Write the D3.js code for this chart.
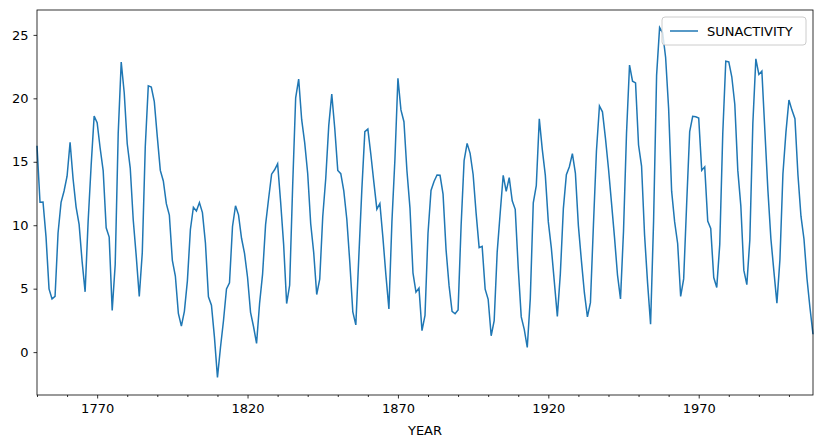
<!DOCTYPE html>
<html><head><meta charset="utf-8">
<script src="https://cdn.jsdelivr.net/npm/d3@7"></script>
<style>body{margin:0;background:#fff}text{font-family:"DejaVu Sans",sans-serif}</style>
</head><body><svg id="c" width="822" height="448"></svg>
<script>
// yearly sunspot numbers 1750-2008, plotted Box-Cox (lambda 0.5) transformed
var firstYear = 1750;
var sunspots = [
83.4,47.7,47.8,30.7,12.2,9.6,10.2,32.4,47.6,54.0,
62.9,85.9,61.2,45.1,36.4,20.9,11.4,37.8,69.8,106.1,
100.8,81.6,66.5,34.8,30.6,7.0,19.8,92.5,154.4,125.9,
84.8,68.1,38.5,22.8,10.2,24.1,82.9,132.0,130.9,118.1,
89.9,66.6,60.0,46.9,41.0,21.3,16.0,6.4,4.1,6.8,
14.5,34.0,45.0,43.1,47.5,42.2,28.1,10.1,8.1,2.5,
0.0,1.4,5.0,12.2,13.9,35.4,45.8,41.1,30.1,23.9,
15.6,6.6,4.0,1.8,8.5,16.6,36.3,49.6,64.2,67.0,
70.9,47.8,27.5,8.5,13.2,56.9,121.5,138.3,103.2,85.7,
64.6,36.7,24.2,10.7,15.0,40.1,61.5,98.5,124.7,96.3,
66.6,64.5,54.1,39.0,20.6,6.7,4.3,22.7,54.8,93.8,
95.8,77.2,59.1,44.0,47.0,30.5,16.3,7.3,37.6,74.0,
139.0,111.2,101.6,66.2,44.7,17.0,11.3,12.4,3.4,6.0,
32.3,54.3,59.7,63.7,63.5,52.2,25.4,13.1,6.8,6.3,
7.1,35.6,73.0,85.1,78.0,64.0,41.8,26.2,26.7,12.1,
9.5,2.7,5.0,24.4,42.0,63.5,53.8,62.0,48.5,43.9,
18.6,5.7,3.6,1.4,9.6,47.4,57.1,103.9,80.6,63.6,
37.6,26.1,14.2,5.8,16.7,44.3,63.9,69.0,77.8,64.9,
35.7,21.2,11.1,5.7,8.7,36.1,79.7,114.4,109.6,88.8,
67.8,47.5,30.6,16.3,9.6,33.2,92.6,151.6,136.3,134.7,
83.9,69.4,31.5,13.9,4.4,38.0,141.7,190.2,184.8,159.0,
112.3,53.9,37.6,27.9,10.2,15.1,47.0,93.8,105.9,105.5,
104.5,66.6,68.9,38.0,34.5,15.5,12.6,27.5,92.5,155.4,
154.6,140.4,115.9,66.6,45.9,17.9,13.4,29.4,100.2,157.6,
142.6,145.7,94.3,54.6,29.9,17.5,8.6,21.5,64.3,93.3,
119.6,111.0,104.0,63.7,40.4,29.8,15.2,7.5,2.9];
var majorTicks = [1770, 1820, 1870, 1920, 1970];
var yTicks = [0, 5, 10, 15, 20, 25];

(function () {
    var data = sunspots.map(function (v, i) {
        return {year: firstYear + i, value: 2 * (Math.sqrt(v) - 1)};
    });

    var svg = d3.select('#c'),
        x0 = 37, x1 = 813, y0 = 10, y1 = 395;

    var x = d3.scaleLinear().domain([firstYear, firstYear + data.length - 1]).range([x0, x1]);
    var ext = d3.extent(data, function (d) { return d.value; }),
        pad = (ext[1] - ext[0]) * 0.05;
    var y = d3.scaleLinear().domain([ext[0] - pad, ext[1] + pad]).range([y1, y0]);

    var minorTicks = d3.range(1750, 2010, 10).filter(function (t) { return majorTicks.indexOf(t) < 0; });

    var gx = svg.append('g').attr('transform', 'translate(0,' + y1 + ')');
    gx.call(d3.axisBottom(x).tickValues(majorTicks).tickFormat(d3.format('d')).tickSize(3.5).tickPadding(5));
    gx.append('g').call(d3.axisBottom(x).tickValues(minorTicks).tickFormat('').tickSize(2));
    gx.selectAll('.domain').remove();

    var gy = svg.append('g').attr('transform', 'translate(' + x0 + ',0)')
        .call(d3.axisLeft(y).tickValues(yTicks).tickSize(3.5).tickPadding(5));
    gy.select('.domain').remove();

    svg.selectAll('.tick text').attr('font-size', 13).attr('fill', '#000');
    svg.selectAll('.tick line').attr('stroke', '#000').attr('stroke-width', 0.8);

    svg.append('path').datum(data)
        .attr('fill', 'none').attr('stroke', '#1f77b4').attr('stroke-width', 1.5)
        .attr('d', d3.line().x(function (d) { return x(d.year); }).y(function (d) { return y(d.value); }));

    svg.append('rect').attr('x', x0).attr('y', y0).attr('width', x1 - x0).attr('height', y1 - y0)
        .attr('fill', 'none').attr('stroke', '#000').attr('stroke-width', 0.8);

    svg.append('text').attr('x', (x0 + x1) / 2).attr('y', 435).attr('text-anchor', 'middle')
        .attr('font-size', 13).text('YEAR');

    // legend
    var lg = svg.append('g').attr('transform', 'translate(662,17)');
    lg.append('rect').attr('width', 144).attr('height', 28).attr('rx', 3)
        .attr('fill', '#fff').attr('fill-opacity', 0.8).attr('stroke', '#ccc');
    lg.append('line').attr('x1', 8).attr('x2', 36).attr('y1', 14).attr('y2', 14)
        .attr('stroke', '#1f77b4').attr('stroke-width', 1.5);
    lg.append('text').attr('x', 45).attr('y', 19).attr('font-size', 13).text('SUNACTIVITY');
})();
</script></body></html>
